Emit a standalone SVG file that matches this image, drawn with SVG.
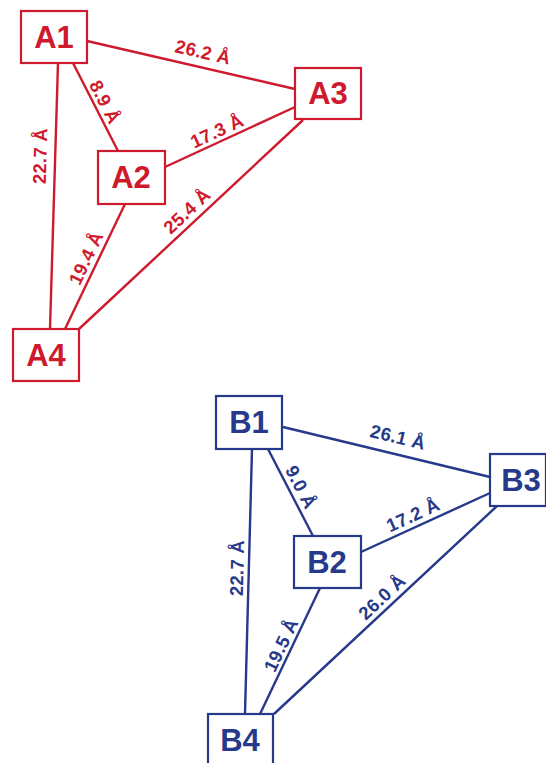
<svg xmlns="http://www.w3.org/2000/svg" width="546" height="763" viewBox="0 0 546 763">
  <style>
    .box { fill: #ffffff; stroke-width: 2.2; }
    .lbl { font-family: "Liberation Sans", Arial, sans-serif; font-weight: bold; font-size: 31px; text-anchor: middle; }
    .dist { font-family: "Liberation Sans", Arial, sans-serif; font-weight: bold; font-size: 18.5px; text-anchor: middle; letter-spacing: 0.3px; }
    .edge { stroke-width: 2.4; fill: none; }
    .r .box, .r .edge { stroke: #cf1a2d; }
    .r .lbl, .r .dist { fill: #cf1a2d; }
    .b .box, .b .edge { stroke: #26398a; }
    .b .lbl, .b .dist { fill: #26398a; }
  </style>
  <rect width="546" height="763" fill="#ffffff"/>

  <!-- Complex A -->
  <g class="r">
    <g id="connectors-a">
      <line class="edge" x1="87" y1="41" x2="295" y2="89"/>
      <line class="edge" x1="73" y1="63" x2="118" y2="151"/>
      <line class="edge" x1="58" y1="63" x2="50" y2="329"/>
      <line class="edge" x1="165" y1="167" x2="295" y2="107"/>
      <line class="edge" x1="303" y1="120" x2="79" y2="329"/>
      <line class="edge" x1="125" y1="204" x2="65" y2="329"/>
      <text class="dist" transform="translate(203,52) rotate(13)" dy="0.35em">26.2 Å</text>
      <text class="dist" transform="translate(105,102) rotate(63)" dy="0.35em">8.9 Å</text>
      <text class="dist" transform="translate(217,131) rotate(-25)" dy="0.35em">17.3 Å</text>
      <text class="dist" transform="translate(40,156) rotate(-88.3)" dy="0.35em">22.7 Å</text>
      <text class="dist" transform="translate(86,258) rotate(-64.4)" dy="0.35em">19.4 Å</text>
      <text class="dist" transform="translate(187,211) rotate(-43)" dy="0.35em">25.4 Å</text>
    </g>
    <g id="A1"><rect class="box" x="21" y="11" width="66" height="52"/><text class="lbl" x="54" y="48">A1</text></g>
    <g id="A2"><rect class="box" x="98" y="151" width="67" height="53"/><text class="lbl" x="131" y="188">A2</text></g>
    <g id="A3"><rect class="box" x="295" y="68" width="66" height="51"/><text class="lbl" x="328" y="104">A3</text></g>
    <g id="A4"><rect class="box" x="13" y="329" width="66" height="52"/><text class="lbl" x="46" y="366">A4</text></g>
  </g>

  <!-- Complex B -->
  <g class="b">
    <g id="connectors-b">
      <line class="edge" x1="283" y1="427" x2="490" y2="477"/>
      <line class="edge" x1="268" y1="449" x2="313" y2="536"/>
      <line class="edge" x1="252" y1="449" x2="245" y2="714"/>
      <line class="edge" x1="361" y1="552" x2="490" y2="493"/>
      <line class="edge" x1="497" y1="506" x2="274" y2="714"/>
      <line class="edge" x1="320" y1="588" x2="260" y2="714"/>
      <text class="dist" transform="translate(398,437) rotate(13.6)" dy="0.35em">26.1 Å</text>
      <text class="dist" transform="translate(301,487) rotate(62.6)" dy="0.35em">9.0 Å</text>
      <text class="dist" transform="translate(413,515) rotate(-24.6)" dy="0.35em">17.2 Å</text>
      <text class="dist" transform="translate(237,568) rotate(-88.5)" dy="0.35em">22.7 Å</text>
      <text class="dist" transform="translate(281,645) rotate(-64.5)" dy="0.35em">19.5 Å</text>
      <text class="dist" transform="translate(382,597) rotate(-43)" dy="0.35em">26.0 Å</text>
    </g>
    <g id="B1"><rect class="box" x="216" y="396" width="66" height="53"/><text class="lbl" x="249" y="433">B1</text></g>
    <g id="B2"><rect class="box" x="294" y="536" width="67" height="52"/><text class="lbl" x="327" y="573">B2</text></g>
    <g id="B3"><rect class="box" x="490" y="454" width="56" height="52"/><text class="lbl" x="521" y="491">B3</text></g>
    <g id="B4"><rect class="box" x="208" y="714" width="65" height="52"/><text class="lbl" x="240" y="751">B4</text></g>
  </g>
</svg>
